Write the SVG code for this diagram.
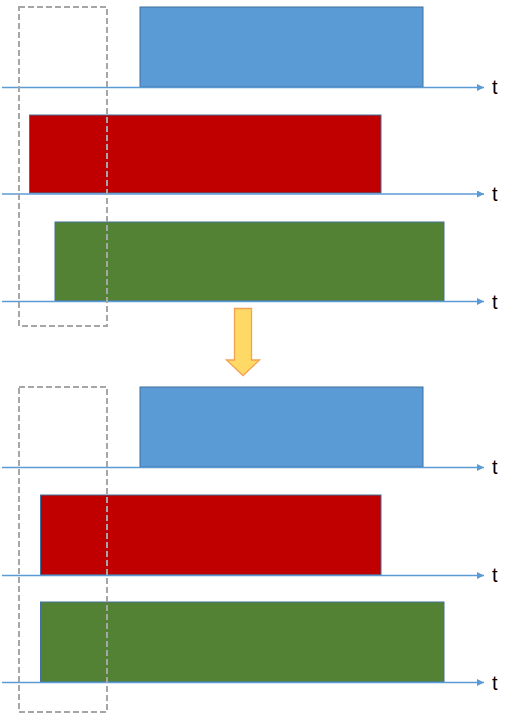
<svg xmlns="http://www.w3.org/2000/svg" width="518" height="716" viewBox="0 0 518 716">
<defs>
<style>
.ax{stroke:#5b9bd5;stroke-width:1.3;fill:none}
.bar{stroke:#41719c;stroke-width:1}
.blue{fill:#5b9bd5}
.red{fill:#c00000}
.green{fill:#548235}
.win{fill:none;stroke:#a6a6a6;stroke-width:2;stroke-dasharray:6 3}
.t{font-family:"Liberation Sans",Arial,sans-serif;font-size:20px;fill:#000}
</style>
<marker id="ah" viewBox="0 0 10 10" refX="10" refY="5" markerWidth="8" markerHeight="7" markerUnits="userSpaceOnUse" orient="auto"><path d="M0,0 L10,5 L0,10 z" fill="#5b9bd5"/></marker>
</defs>
<g id="top">
<rect id="top-blue" class="bar blue" x="140" y="7" width="283" height="80"/>
<rect id="top-red" class="bar red" x="29.5" y="115" width="351.5" height="78"/>
<rect id="top-green" class="bar green" x="55" y="222" width="389" height="79"/>
</g>
<g id="bottom">
<rect id="bot-blue" class="bar blue" x="140" y="387" width="283" height="80"/>
<rect id="bot-red" class="bar red" x="40.5" y="495" width="340.5" height="80"/>
<rect id="bot-green" class="bar green" x="40.5" y="602" width="403.5" height="80"/>
</g>
<g id="connectors">
<line class="ax" x1="2" y1="87.5" x2="484" y2="87.5" marker-end="url(#ah)"/>
<line class="ax" x1="2" y1="194" x2="484" y2="194" marker-end="url(#ah)"/>
<line class="ax" x1="2" y1="301.5" x2="484" y2="301.5" marker-end="url(#ah)"/>
<line class="ax" x1="2" y1="467.5" x2="484" y2="467.5" marker-end="url(#ah)"/>
<line class="ax" x1="2" y1="575.5" x2="484" y2="575.5" marker-end="url(#ah)"/>
<line class="ax" x1="2" y1="682.5" x2="484" y2="682.5" marker-end="url(#ah)"/>
</g>
<g id="labels">
<text class="t" x="492" y="94">t</text>
<text class="t" x="492" y="201">t</text>
<text class="t" x="492" y="309">t</text>
<text class="t" x="492" y="474">t</text>
<text class="t" x="492" y="582">t</text>
<text class="t" x="492" y="690">t</text>
</g>
<g id="windows">
<rect id="win-top" class="win" x="19" y="7" width="88" height="319"/>
<rect id="win-bot" class="win" x="19" y="387" width="88" height="325"/>
</g>
<g id="down-arrow">
<path d="M234.5,308.5 H251.5 V360 H259.5 L243,375.5 L226.5,360 H234.5 Z" fill="#ffd966" stroke="#f4a150" stroke-width="1.3"/>
</g>
</svg>
